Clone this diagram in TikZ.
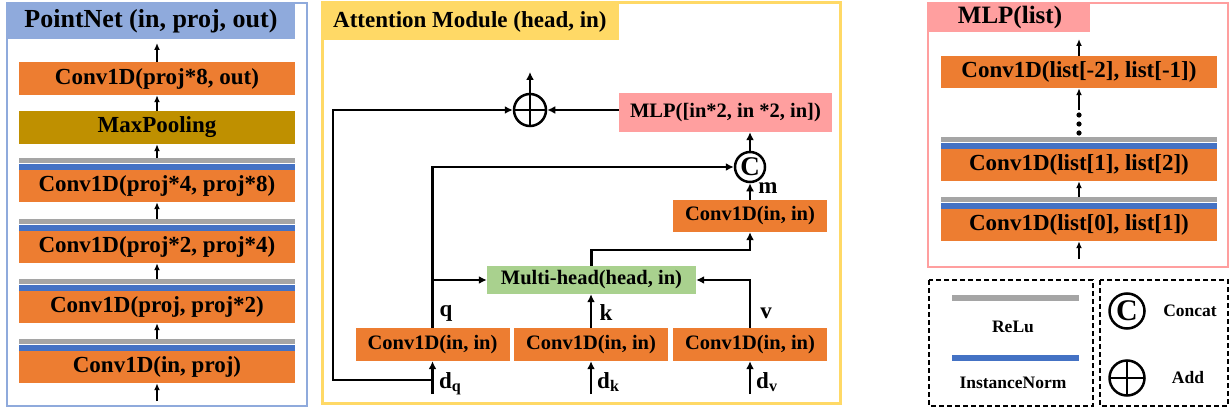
\documentclass[tikz,border=0pt]{standalone}
\usepackage{fontspec}
\setmainfont{Liberation Serif}
\usetikzlibrary{arrows.meta,positioning,calc}

\definecolor{convorange}{HTML}{ED7D31}
\definecolor{normblue}{HTML}{4472C4}
\definecolor{relugray}{HTML}{A5A5A5}
\definecolor{poolgold}{HTML}{BF9000}
\definecolor{headgreen}{HTML}{A9D18E}
\definecolor{mlppink}{HTML}{FF9F9F}
\definecolor{pnblue}{HTML}{8FAADC}
\definecolor{attyellow}{HTML}{FFD966}

\newcommand{\fsz}[1]{\fontsize{#1}{#1}\selectfont\bfseries}
% ReLu + InstanceNorm bars on top of a conv box
\newcommand{\actbars}[1]{%
  \fill[normblue] (#1.north west) rectangle ([yshift=5.5pt]#1.north east);
  \fill[relugray] ([yshift=6.5pt]#1.north west) rectangle ([yshift=11.5pt]#1.north east);}

\tikzset{
  arr/.style={-{Latex[length=7pt,width=6pt]}, line width=2pt},
  attarr/.style={-{Latex[length=8pt,width=8pt]}, line width=2.5pt},
  pconv/.style={fill=convorange, minimum width=276pt, minimum height=32pt, inner sep=0pt, font=\fsz{23}},
  aconv/.style={fill=convorange, minimum width=154pt, minimum height=33pt, inner sep=0pt, font=\fsz{20.5}},
  lbl/.style={font=\fsz{23}, inner sep=0pt},
  catnode/.style={circle, draw, line width=2.5pt, minimum size=30pt, inner sep=0pt, font=\fsz{27}},
  addnode/.style={circle, draw, line width=2.5pt, minimum size=32pt, inner sep=0pt,
    path picture={\draw[line width=2.5pt] (path picture bounding box.north) -- (path picture bounding box.south)
      (path picture bounding box.west) -- (path picture bounding box.east);}},
}

\begin{document}
\begin{tikzpicture}[x=1pt, y=-1pt]
    \useasboundingbox (0,0) rectangle (1230,414);

    % PointNet panel
    \draw[pnblue, line width=2.5pt] (7,3) rectangle (307,406);
    \fill[pnblue] (7,3) rectangle (295,39);
    \node[font=\fsz{26}] (pntitle) at (151,21) {PointNet (in, proj, out)};

    \node[pconv] (pconvA) at (157,367) {Conv1D(in, proj)};
    \node[pconv] (pconvB) at (157,307) {Conv1D(proj, proj*2)};
    \node[pconv] (pconvC) at (157,247) {Conv1D(proj*2, proj*4)};
    \node[pconv] (pconvD) at (157,186) {Conv1D(proj*4, proj*8)};
    \node[pconv, fill=poolgold, minimum height=33pt] (pool) at (157,127.5) {MaxPooling};
    \node[pconv, minimum height=33pt] (pconvE) at (157,78.5) {Conv1D(proj*8, out)};
    \foreach \n in {pconvA,pconvB,pconvC,pconvD} {\actbars{\n}}

    \coordinate (pnin) at (157,401);
    \coordinate (pnout) at (157,43);
    \draw[arr] (pnin) -- (pconvA.south);
    \draw[arr] ([yshift=12pt]pconvA.north) -- (pconvB.south);
    \draw[arr] ([yshift=12pt]pconvB.north) -- (pconvC.south);
    \draw[arr] ([yshift=12pt]pconvC.north) -- (pconvD.south);
    \draw[arr] ([yshift=12pt]pconvD.north) -- (pool.south);
    \draw[arr] (pool.north) -- (pconvE.south);
    \draw[arr] (pconvE.north) -- (pnout);

    % Attention module panel
    \draw[attyellow, line width=3pt] (322,3) rectangle (840,403);
    \fill[attyellow] (322,3) rectangle (619,40);
    \node[font=\fsz{23}, anchor=west, inner sep=0pt] (attitle) at (333,22) {Attention Module (head, in)};

    \node[aconv] (convq) at (432.5,344.5) {Conv1D(in, in)};
    \node[aconv] (convk) at (591,344.5) {Conv1D(in, in)};
    \node[aconv] (convv) at (750,344.5) {Conv1D(in, in)};
    \node[aconv, minimum height=32pt] (convm) at (750,216) {Conv1D(in, in)};
    \node[aconv, fill=headgreen, minimum width=209pt, minimum height=28pt] (mhead) at (591.5,280) {Multi-head(head, in)};
    \node[aconv, fill=mlppink, minimum width=213pt, minimum height=39pt] (mlpatt) at (725.5,112.5) {MLP([in*2, in *2, in])};
    \node[catnode] (cat) at (750,167) {C};
    \node[addnode] (add) at (530,110) {};

    % inputs
    \coordinate (inq) at (432.5,394);
    \coordinate (ink) at (591,394);
    \coordinate (inv) at (750,394);
    \coordinate (skipq) at (432.5,380);
    \draw[attarr] (inq) -- (convq.south);
    \draw[attarr] (ink) -- (convk.south);
    \draw[attarr] (inv) -- (convv.south);
    \node[lbl, anchor=base west] (ldq) at (439,388) {d\textsubscript{q}};
    \node[lbl, anchor=base west] (ldk) at (597,388) {d\textsubscript{k}};
    \node[lbl, anchor=base west] (ldv) at (756,388) {d\textsubscript{v}};

    % q, k, v into multi-head
    \draw[attarr] (convq.north) |- (cat.west);
    \draw[attarr] (convq.north |- mhead.west) -- (mhead.west);
    \draw[attarr] (convk.north) -- (convk.north |- mhead.south);
    \draw[attarr] (convv.north) |- (mhead.east);
    \node[lbl] (lq) at (446,313) {q};
    \node[lbl] (lk) at (606,313) {k};
    \node[lbl] (lv) at (766,313) {v};

    % multi-head -> conv -> concat -> MLP -> add
    \draw[attarr] (mhead.north) |- ++(0,-16) -| (convm.south);
    \draw[attarr] (convm.north) -- (cat.south);
    \node[lbl] (lm) at (768,188) {m};
    \draw[attarr] (cat.north) -- (cat.north |- mlpatt.south);
    \draw[attarr] (mlpatt.west |- add.east) -- (add.east);
    \draw[attarr] (skipq) -- (333,380) |- (add.west);
    \coordinate (addout) at (530,72);
    \draw[attarr] (add.north) -- (addout);

    % MLP panel
    \draw[mlppink, line width=2.5pt] (928,3) rectangle (1228,267);
    \fill[mlppink] (928,3) rectangle (1090,32);
    \node[font=\fsz{25}] (mlptitle) at (1010,17) {MLP(list)};

    \node[pconv] (lconvA) at (1079,225) {Conv1D(list[0], list[1])};
    \node[pconv] (lconvB) at (1079,165) {Conv1D(list[1], list[2])};
    \node[pconv] (lconvC) at (1079,72) {Conv1D(list[-2], list[-1])};
    \actbars{lconvA}
    \actbars{lconvB}
    \foreach \y in {115,124,133} \fill (1079,\y) circle (2.6pt);

    \coordinate (lin) at (1079,259);
    \coordinate (ldots) at (1079,110);
    \coordinate (lout) at (1079,39);
    \draw[arr] (lin) -- (lconvA.south);
    \draw[arr] ([yshift=12pt]lconvA.north) -- (lconvB.south);
    \draw[arr] (ldots) -- (lconvC.south);
    \draw[arr] (lconvC.north) -- (lout);

    % legend
    \draw[dash pattern=on 5pt off 3pt, line width=1.5pt] (929,280) rectangle (1093,406);
    \draw[dash pattern=on 5pt off 3pt, line width=1.5pt] (1100,280) rectangle (1228,406);
    \draw[relugray, line width=6pt] (952,298) -- (1079,298);
    \draw[normblue, line width=6pt] (952,358) -- (1079,358);
    \node[font=\fsz{17.5}] (lgrelu) at (1013,327) {ReLu};
    \node[font=\fsz{17.5}] (lgnorm) at (1013,383) {InstanceNorm};
    \node[catnode, minimum size=35pt, font=\fsz{30}] (lgcat) at (1127,311) {C};
    \node[font=\fsz{17.5}] (lgcattext) at (1190,311) {Concat};
    \node[addnode, minimum size=35pt] (lgadd) at (1127,378) {};
    \node[font=\fsz{17.5}] (lgaddtext) at (1188,378) {Add};
\end{tikzpicture}
\end{document}
